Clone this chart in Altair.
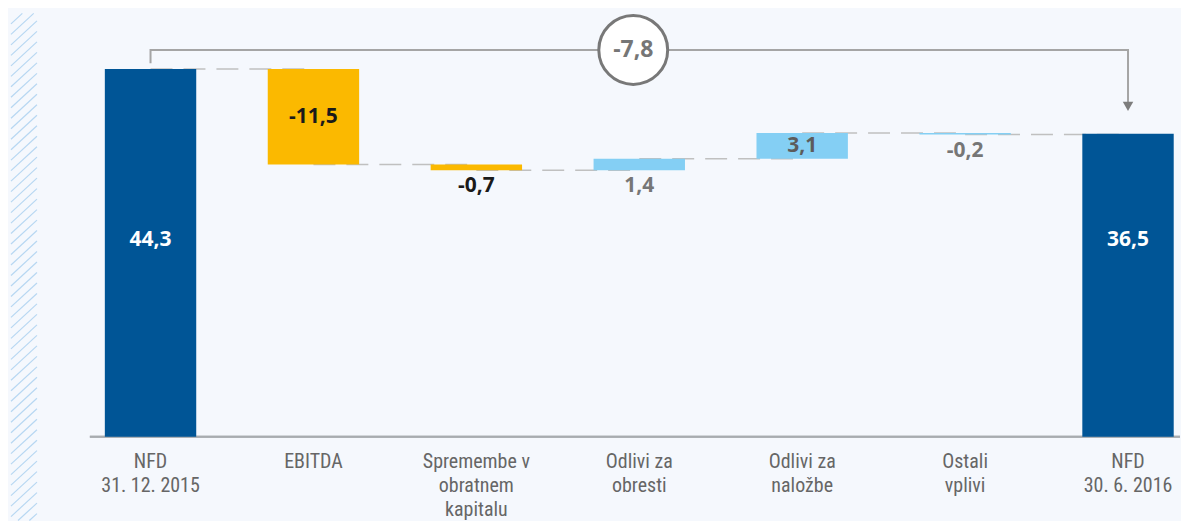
import altair as alt
import numpy as np
import pandas as pd

# ---------------- data ----------------
categories = [
    "NFD\n31. 12. 2015",
    "EBITDA",
    "Spremembe v\nobratnem\nkapitalu",
    "Odlivi za\nobresti",
    "Odlivi za\nnaložbe",
    "Ostali\nvplivi",
    "NFD\n30. 6. 2016",
]
values = [44.3, -11.5, -0.7, 1.4, 3.1, -0.2, 36.5]
groups = ["stanje", "znizanje", "znizanje", "povecanje", "povecanje", "povecanje", "stanje"]
change_label = "-7,8"


def fmt(v):
    return f"{v:.1f}".replace(".", ",")


rows = []
level = 0.0
for i, (c, v, g) in enumerate(zip(categories, values, groups)):
    if g == "stanje":
        start, end = 0.0, v
    else:
        start, end = level, level + v
    level = end
    rows.append(dict(cat=c, start=start, end=end, value=v, group=g, label=fmt(v),
                     lo=min(start, end), mid=(start + end) / 2, big=bool(abs(v) >= 2)))
df = pd.DataFrame(rows)

# connectors (dashed) between consecutive bars
con_rows = []
for i in range(len(categories) - 1):
    con_rows.append(dict(seg=i, cat=categories[i], lvl=rows[i]["end"]))
    con_rows.append(dict(seg=i, cat=categories[i + 1], lvl=rows[i]["end"]))
con = pd.DataFrame(con_rows)

# bracket showing total change
top_lvl = max(values[0], values[-1]) + 2.3
bracket = pd.DataFrame([
    dict(o=0, cat=categories[0], lvl=values[0] + 0.7),
    dict(o=1, cat=categories[0], lvl=top_lvl),
    dict(o=2, cat=categories[-1], lvl=top_lvl),
    dict(o=3, cat=categories[-1], lvl=values[-1] + 3.4),
])
arrow = pd.DataFrame([dict(cat=categories[-1], lvl=values[-1] + 3.3)])
badge = pd.DataFrame([dict(cat=categories[3], lvl=top_lvl, label=change_label)])

# decorative hatch stripe on the left
hatch_rows = []
spacing, rise, wpx, hpx = 10.5, 24.0, 26.0, 508.0
for k in range(-3, int(hpx / spacing) + 5):
    y0 = k * spacing
    t_lo = max(0.0, (y0 - hpx) / rise)
    t_hi = min(1.0, y0 / rise)
    if t_lo < t_hi:
        hatch_rows.append(dict(x1=wpx * t_lo, y1=y0 - rise * t_lo,
                               x2=wpx * t_hi, y2=y0 - rise * t_hi))
hatch = pd.DataFrame(hatch_rows)

# ---------------- chart ----------------
W, H = 1092, 429
YMAX = 51.6


def xs():
    return alt.Scale(type="band", domain=categories, range=[15, 1085.7],
                     paddingInner=0.439, paddingOuter=0)


def ys():
    return alt.Scale(domain=[0, YMAX], nice=False, zero=True)


def X(axis=None, band=0.5):
    return alt.X("cat:N", sort=categories, scale=xs(), axis=axis, bandPosition=band)


def Y(field):
    return alt.Y(field, scale=ys(), axis=None)


x_axis = alt.Axis(
    title=None, domain=False, ticks=False, labelAngle=0,
    labelExpr="split(datum.label, '\\n')",
    labelFont="Roboto Condensed, DejaVu Sans Condensed, Liberation Sans Narrow, Arial Narrow, Roboto, sans-serif",
    labelFontSize=20, labelLineHeight=24,
    labelColor="#666666", labelPadding=15, labelLimit=300,
)

bars = alt.Chart(df).mark_bar().encode(
    x=alt.X("cat:N", sort=categories, scale=xs(), axis=x_axis),
    y=Y("start:Q"),
    y2="end:Q",
    color=alt.Color("group:N", legend=None,
                    scale=alt.Scale(domain=["stanje", "znizanje", "povecanje"],
                                    range=["#005596", "#FBB900", "#84CFF4"])),
)

base_line = alt.Chart(df).transform_filter("datum.group == 'stanje' && datum.start == 0").mark_rule(
    color="#a8acb0", strokeWidth=2
).encode(y=Y("start:Q"), x=alt.value(0), x2=alt.value(W))

connectors = alt.Chart(con).mark_line(color="#c0c0c0", strokeWidth=1.5, strokeDash=[22, 11]).encode(
    x=X(), y=Y("lvl:Q"), detail="seg:N"
)

lab_font = dict(font="Open Sans", fontWeight="bold", fontSize=21)

total_labels = alt.Chart(df).transform_filter("datum.group == 'stanje'").mark_text(
    color="white", baseline="middle", **lab_font
).encode(x=X(), y=alt.value(232), text="label:N")

inner_labels = alt.Chart(df).transform_filter("datum.group != 'stanje' && datum.big").mark_text(
    baseline="middle", **lab_font
).encode(
    x=X(), y=Y("mid:Q"), text="label:N",
    color=alt.Color("group:N", legend=None,
                    scale=alt.Scale(domain=["znizanje", "povecanje"],
                                    range=["#1a1a1a", "#5c5c5c"])),
)

outer_labels = alt.Chart(df).transform_filter("datum.group != 'stanje' && !datum.big").mark_text(
    baseline="middle", dy=16, **lab_font
).encode(
    x=X(), y=Y("lo:Q"), text="label:N",
    color=alt.Color("group:N", legend=None,
                    scale=alt.Scale(domain=["znizanje", "povecanje"],
                                    range=["#1a1a1a", "#767676"])),
)

bracket_line = alt.Chart(bracket).mark_line(color="#a5a5a5", strokeWidth=2).encode(
    x=X(), y=Y("lvl:Q"), order="o:Q"
)

arrow_head = alt.Chart(arrow).mark_point(
    shape="triangle-down", filled=True, color="#7d7d7d", size=110, opacity=1
).encode(x=X(), y=Y("lvl:Q"))

badge_circle = alt.Chart(badge).mark_point(
    shape="circle", filled=True, fill="white", stroke="#787878", strokeWidth=3,
    size=4761, opacity=1
).encode(x=X(band=0.434), y=Y("lvl:Q"))

badge_text = alt.Chart(badge).mark_text(
    color="#767676", baseline="middle", font="Open Sans", fontWeight="bold", fontSize=23
).encode(x=X(band=0.434), y=Y("lvl:Q"), text="label:N")

hatch_layer = alt.Chart(hatch).mark_rule(color="#b7d7f2", strokeWidth=1.2).encode(
    x=alt.X("x1:Q", scale=alt.Scale(domain=[0, 26], range=[-79, -53]), axis=None),
    x2="x2:Q",
    y=alt.Y("y1:Q", scale=alt.Scale(domain=[0, 508], range=[5, 513]), axis=None),
    y2="y2:Q",
)

chart = alt.layer(
    hatch_layer, base_line, connectors, bars, total_labels, inner_labels, outer_labels,
    bracket_line, arrow_head, badge_circle, badge_text,
).resolve_scale(
    x="independent", y="independent", color="independent"
).properties(
    width=W, height=H,
    padding={"left": 2, "top": 0, "right": 0, "bottom": 0},
    background="#F5F8FD",
).configure_view(stroke=None)

chart.save("out.html", embed_options={"renderer": "svg", "actions": False})
